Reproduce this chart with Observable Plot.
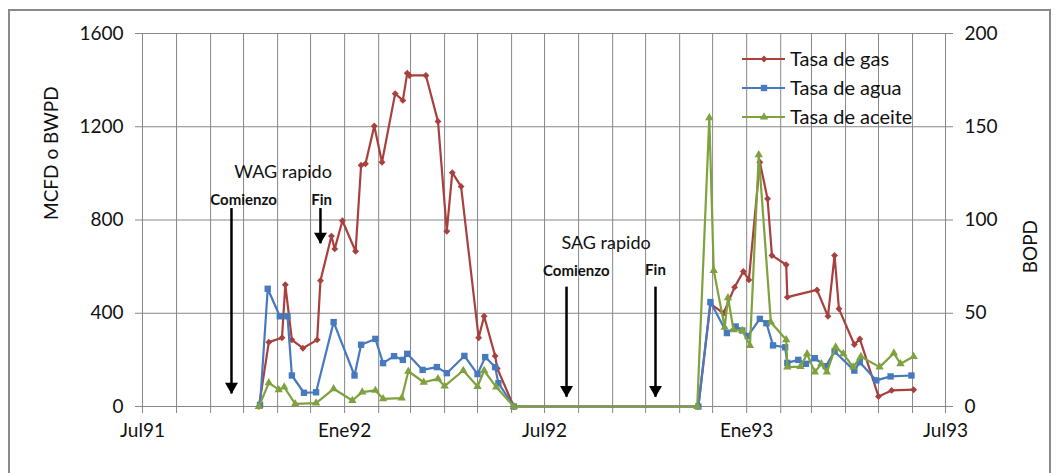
<!DOCTYPE html>
<html><head><meta charset="utf-8">
<script src="https://cdn.jsdelivr.net/npm/d3@7"></script>
<script src="https://cdn.jsdelivr.net/npm/@observablehq/plot@0.6"></script>
<style>body{margin:0;background:#fff}</style>
</head><body><div id="chart"></div>
<script>
const red = "#A8403D", blue = "#4679BD", green = "#7FA13E";

const gasDates = ["1991-10-15","1991-10-24","1991-11-05","1991-11-08","1991-11-14","1991-11-24","1991-12-07","1991-12-10","1991-12-20","1991-12-23","1991-12-30","1992-01-11","1992-01-16","1992-01-20","1992-01-28","1992-02-04","1992-02-16","1992-02-23","1992-02-27","1992-02-29","1992-03-15","1992-03-26","1992-04-03","1992-04-08","1992-04-16","1992-05-02","1992-05-07","1992-05-17","1992-05-19","1992-06-03","1992-11-18","1992-11-29","1992-12-11","1992-12-21","1992-12-29","1993-01-03","1993-01-13","1993-01-20","1993-01-24","1993-02-06","1993-02-07","1993-03-06","1993-03-16","1993-03-22","1993-03-26","1993-04-09","1993-04-14","1993-05-01","1993-05-13","1993-06-02"];
const gasValues = [0,276,295,522,286,250,286,540,731,676,797,666,1035,1041,1203,1048,1342,1313,1430,1420,1420,1223,752,1003,944,295,387,217,163,0,0,440,400,512,579,543,1048,891,648,608,469,500,387,648,419,266,290,43,69,72];

const waterDates = ["1991-10-16","1991-10-23","1991-11-03","1991-11-10","1991-11-14","1991-11-25","1991-12-06","1991-12-22","1992-01-10","1992-01-16","1992-01-29","1992-02-05","1992-02-15","1992-02-23","1992-02-27","1992-03-12","1992-03-25","1992-04-03","1992-04-19","1992-05-01","1992-05-08","1992-05-17","1992-05-20","1992-06-03","1992-11-18","1992-11-29","1992-12-14","1992-12-22","1992-12-28","1993-01-02","1993-01-13","1993-01-19","1993-01-25","1993-02-05","1993-02-07","1993-02-17","1993-02-24","1993-03-04","1993-03-14","1993-03-22","1993-04-09","1993-04-14","1993-04-29","1993-05-12","1993-05-31"];
const waterValues = [7,505,387,387,133,59,61,362,133,265,290,186,216,200,226,157,169,143,217,139,212,169,100,0,0,448,315,343,326,302,376,357,262,254,187,200,183,207,173,236,154,190,112,129,133];

const oilDates = ["1991-10-15","1991-10-24","1991-11-02","1991-11-07","1991-11-17","1991-12-06","1991-12-22","1992-01-08","1992-01-17","1992-01-29","1992-02-05","1992-02-22","1992-02-28","1992-03-13","1992-03-26","1992-04-01","1992-04-18","1992-05-01","1992-05-07","1992-05-18","1992-06-03","1992-11-17","1992-11-28","1992-12-02","1992-12-12","1992-12-15","1992-12-20","1992-12-28","1993-01-04","1993-01-12","1993-01-23","1993-02-06","1993-02-07","1993-02-19","1993-02-25","1993-03-04","1993-03-10","1993-03-15","1993-03-23","1993-03-30","1993-04-08","1993-04-15","1993-05-02","1993-05-15","1993-05-21","1993-06-02"];
const oilValues = [0,12.7,9.0,10.4,1.4,1.8,9.5,3.2,7.7,8.6,4.1,4.5,18.9,13.0,14.8,10.9,19.3,10.7,19.3,10.4,0,0,154.8,72.9,42.5,58.3,41.1,40.7,32.7,135,45.2,35.8,21.1,21.4,28.2,18.4,22.9,18.4,31.8,28.2,21.1,26.8,21.1,28.6,22.9,26.8];

const seriesNames = ["Tasa de gas","Tasa de agua","Tasa de aceite"];
const leftTicks = [0,400,800,1200,1600];
const rightTicks = [0,50,100,150,200];
const xLabelDates = ["1991-07-01","1992-01-01","1992-07-01","1993-01-01","1993-07-01"];
const xTickLabels = ["Jul91","Ene92","Jul92","Ene93","Jul93"];

// annotations (in data units)
const arrowDates = ["1991-09-20","1991-12-10","1992-07-21","1992-10-10"];
const arrowTop = [849,849,512,512];
const arrowTip = [54,698,40,40];
const noteTexts = ["WAG rapido","Comienzo","Fin","SAG rapido","Comienzo","Fin"];
const noteDates = ["1991-11-06","1991-10-01","1991-12-11","1992-08-26","1992-07-30","1992-10-10"];
const noteValues = [1004,884,884,699,579,583];
const noteBold = [false,true,true,false,true,true];

const D = s => new Date(s);
const gas = gasDates.map((d,i)=>({date:D(d), v:gasValues[i]}));
const water = waterDates.map((d,i)=>({date:D(d), v:waterValues[i]}));
const oil = oilDates.map((d,i)=>({date:D(d), v:oilValues[i]}));
const ratio = leftTicks[leftTicks.length-1] / rightTicks[rightTicks.length-1];
const months = d3.utcMonth.range(D("1991-07-01"), D("1993-07-02"));
const xLabels = xLabelDates.map((d,i)=>({date:D(d), label:xTickLabels[i]}));
const arrows = arrowDates.map((d,i)=>({date:D(d), top:arrowTop[i], tip:arrowTip[i]}));
const notes = noteTexts.map((t,i)=>({text:t, date:D(noteDates[i]), v:noteValues[i], bold:noteBold[i]}));

const grid = "#878787";
const fontFamily = "Lato, 'Open Sans', sans-serif";

const chart = Plot.plot({
  width: 1058, height: 473,
  marginLeft: 142, marginRight: 113, marginTop: 33, marginBottom: 67,
  x: {type: "utc", domain: [D("1991-07-01"), D("1993-07-01")]},
  y: {domain: [0, 1600]},
  style: {fontFamily, background: "#fff", color: "#111"},
  marks: [
    Plot.gridX(months, {stroke: grid, strokeOpacity: 1}),
    Plot.gridY(leftTicks, {stroke: grid, strokeOpacity: 1}),
    Plot.axisX({ticks: months, tickSize: 7, tickFormat: () => "", stroke: grid, label: null}),
    Plot.text(xLabels, {x: "date", text: "label", frameAnchor: "bottom", dy: 30, fontSize: 19, fill: "#111"}),
    Plot.axisY({anchor: "left", ticks: leftTicks, tickFormat: d => String(d), tickSize: 7, tickPadding: 12, fontSize: 19, stroke: grid, fill: "#111", label: null}),
    Plot.axisY({anchor: "right", ticks: rightTicks.map(t => t*ratio), tickFormat: d => String(d/ratio), tickSize: 7, tickPadding: 12, fontSize: 19, stroke: grid, fill: "#111", label: null}),
    Plot.text(["MCFD o BWPD"], {frameAnchor: "left", rotate: -90, dx: -91, fontSize: 19, fill: "#111"}),
    Plot.text(["BOPD"], {frameAnchor: "right", rotate: -90, dx: 85, fontSize: 19, fill: "#111"}),
    // arrows
    Plot.ruleX(arrows, {x: "date", y1: "top", y2: "tip", stroke: "#000", strokeWidth: 2.5}),
    Plot.dot(arrows, {x: "date", y: "tip", symbol: "triangle", rotate: 180, r: 4.8, dy: -7.4, fill: "#000"}),
    Plot.text(notes.filter(d=>!d.bold), {x: "date", y: "v", text: "text", fontSize: 18, fill: "#111"}),
    Plot.text(notes.filter(d=>d.bold), {x: "date", y: "v", text: "text", fontSize: 15, fontWeight: "bold", fill: "#111"}),
    // series
    Plot.line(gas, {x: "date", y: "v", stroke: red, strokeWidth: 2.2}),
    Plot.dot(gas, {x: "date", y: "v", symbol: "diamond2", r: 3.1, fill: red}),
    Plot.line(water, {x: "date", y: "v", stroke: blue, strokeWidth: 2.2}),
    Plot.dot(water, {x: "date", y: "v", symbol: "square", r: 3.6, fill: blue}),
    Plot.line(oil, {x: "date", y: d => d.v*ratio, stroke: green, strokeWidth: 2.2}),
    Plot.dot(oil, {x: "date", y: d => d.v*ratio, symbol: "triangle", r: 3.1, fill: green})
  ]
});
document.getElementById("chart").appendChild(chart);

// outer chart frame and legend
const svg = d3.select(chart);
svg.append("rect").attr("x", 9).attr("y", 10).attr("width", 1041).attr("height", 480)
  .attr("fill", "none").attr("stroke", "#8a8a8a").attr("stroke-width", 2);
const legendSymbols = [d3.symbolDiamond2, d3.symbolSquare, d3.symbolTriangle];
const legendR = [3.1, 3.6, 3.1];
const legendColors = [red, blue, green];
const lg = svg.append("g").attr("font-family", fontFamily).attr("font-size", 20).attr("text-anchor", "start");
seriesNames.forEach((name, i) => {
  const y = 59 + i*29;
  lg.append("line").attr("x1", 742).attr("x2", 785).attr("y1", y).attr("y2", y)
    .attr("stroke", legendColors[i]).attr("stroke-width", 2.2);
  lg.append("path").attr("transform", `translate(764,${y})`)
    .attr("d", d3.symbol(legendSymbols[i], Math.PI*legendR[i]**2)()).attr("fill", legendColors[i]);
  lg.append("text").attr("x", 790).attr("y", y).attr("dy", "0.35em").attr("fill", "#111").text(name);
});
</script></body></html>
